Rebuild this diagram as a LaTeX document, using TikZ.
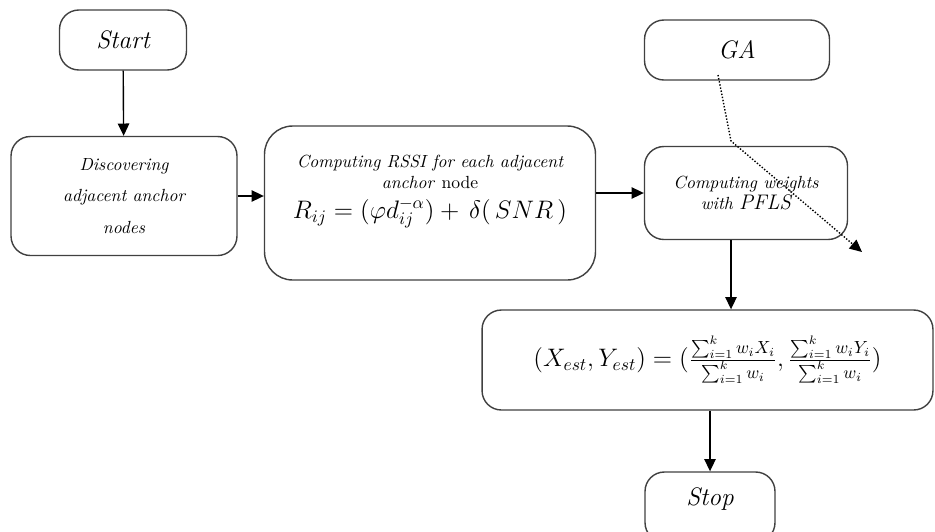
\documentclass[tikz,border=0pt]{standalone}
\usetikzlibrary{arrows.meta}
\tikzset{
  stepbox/.style={draw=black!75, line width=0.8pt, rounded corners=11pt, align=center, font=\itshape},
  flow/.style={-{Triangle[length=7pt,width=6.5pt]}, line width=0.8pt},
}
\begin{document}
\begin{tikzpicture}[x=0.02cm, y=-0.02cm]
        \useasboundingbox (0,0) rectangle (935,531);
        % Nodes
        \node (start) [stepbox, minimum width=2.54cm, minimum height=1.2cm, font=\Large\itshape] at (123,40) {Start};
        \node (ga) [stepbox, minimum width=3.7cm, minimum height=1.2cm, font=\Large\itshape] at (737,50) {GA};
        \node (disc) [stepbox, minimum width=4.52cm, minimum height=2.38cm] at (124,196) {Discovering\\[6pt] adjacent anchor\\[6pt] nodes};
        \node (rssi) [stepbox, minimum width=6.62cm, minimum height=3.08cm, rounded corners=16pt] at (430,203)
            {Computing RSSI for each adjacent\\ anchor \textup{node}\\[5pt] \Large$R_{ij}=\bigl(\varphi d_{ij}^{-\alpha}\bigr)+\,\delta(\,SNR\,)$\\[6pt]};
        \node (weights) [stepbox, minimum width=4.06cm, minimum height=1.86cm] at (746,193) {Computing weights\\ with \large PFLS};
        \node (formula) [stepbox, minimum width=9.02cm, minimum height=2cm] at (707.5,360)
            {\Large$(X_{est},Y_{est})=(\frac{\sum_{i=1}^{k}w_iX_i}{\sum_{i=1}^{k}w_i},\frac{\sum_{i=1}^{k}w_iY_i}{\sum_{i=1}^{k}w_i})$};
        \node (stop) [stepbox, minimum width=2.6cm, minimum height=1.4cm, font=\Large\itshape, text depth=12pt] at (710,507) {Stop};
        \coordinate (gaout) at (718,75);
        \coordinate (gabend) at (731,141);
        \coordinate (gaend) at (862,252);

        % Edges
        \draw[flow] (start) -- (disc);
        \draw[flow] (disc.east) -- (disc.east -| rssi.west);
        \draw[flow] (weights.west -| rssi.east) -- (weights.west);
        \draw[flow] ([xshift=-0.3cm]weights.south) -- ([xshift=-0.3cm]weights.south |- formula.north);
        \draw[flow] (stop.north |- formula.south) -- (stop);
        \draw[flow, densely dotted] (gaout) -- (gabend) -- (gaend);
\end{tikzpicture}
\end{document}
